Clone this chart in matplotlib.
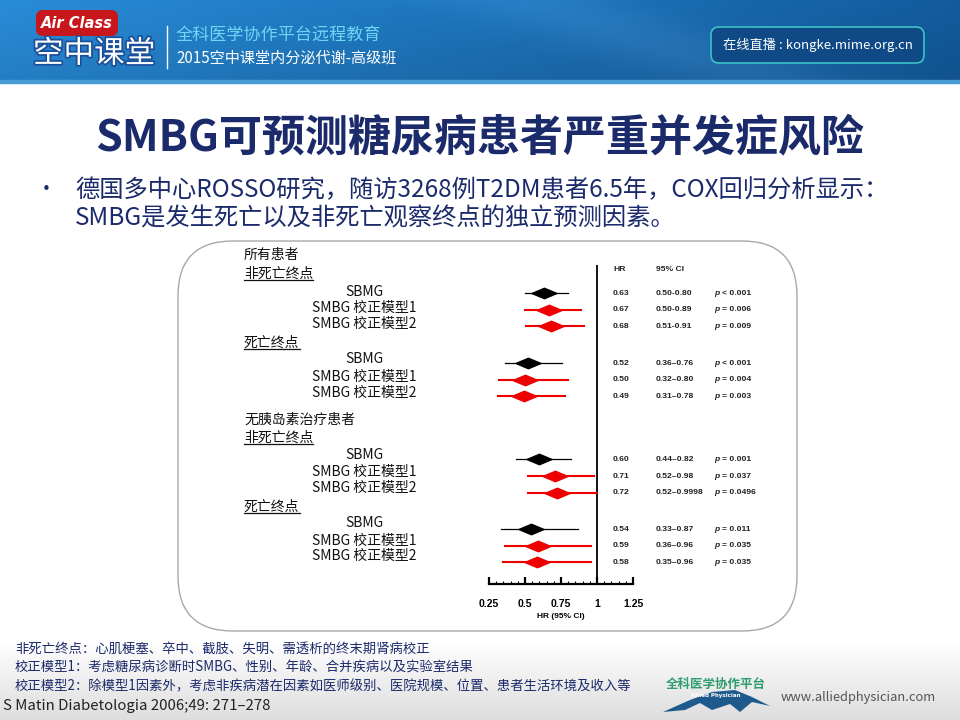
import numpy as np
import matplotlib
matplotlib.use("Agg")
import matplotlib.pyplot as plt
from matplotlib.patches import FancyBboxPatch, Polygon
from matplotlib.transforms import blended_transform_factory
import matplotlib.patheffects as pe

plt.rcParams['font.family'] = ['Noto Sans CJK SC', 'DejaVu Sans']

# ---- data ----
row_labels = ["SBMG", "SMBG 校正模型1", "SMBG 校正模型2",
              "SBMG", "SMBG 校正模型1", "SMBG 校正模型2",
              "SBMG", "SMBG 校正模型1", "SMBG 校正模型2",
              "SBMG", "SMBG 校正模型1", "SMBG 校正模型2"]
hr = [0.63, 0.67, 0.68, 0.52, 0.50, 0.49, 0.60, 0.71, 0.72, 0.54, 0.59, 0.58]
ci_lo = [0.50, 0.50, 0.51, 0.36, 0.32, 0.31, 0.44, 0.52, 0.52, 0.33, 0.36, 0.35]
ci_hi = [0.80, 0.89, 0.91, 0.76, 0.80, 0.78, 0.82, 0.98, 0.9998, 0.87, 0.96, 0.96]
ci_text = ["0.50-0.80", "0.50-0.89", "0.51-0.91", "0.36–0.76", "0.32–0.80", "0.31–0.78",
           "0.44–0.82", "0.52–0.98", "0.52–0.9998", "0.33–0.87", "0.36–0.96", "0.35–0.96"]
p_text = ["< 0.001", "= 0.006", "= 0.009", "< 0.001", "= 0.004", "= 0.003",
          "= 0.001", "= 0.037", "= 0.0496", "= 0.011", "= 0.035", "= 0.035"]
adjusted = [False, True, True] * 4
group_labels = ["所有患者", "非死亡终点", "死亡终点", "无胰岛素治疗患者", "非死亡终点", "死亡终点"]
group_underline = [False, True, True, False, True, True]
x_ticks = [0.25, 0.5, 0.75, 1, 1.25]
x_ticklabels = ["0.25", "0.5", "0.75", "1", "1.25"]

title = "SMBG可预测糖尿病患者严重并发症风险"
bullet_lines = ["德国多中心ROSSO研究，随访3268例T2DM患者6.5年，COX回归分析显示：",
                "SMBG是发生死亡以及非死亡观察终点的独立预测因素。"]
notes = ["非死亡终点：心肌梗塞、卒中、截肢、失明、需透析的终末期肾病校正",
         "校正模型1：考虑糖尿病诊断时SMBG、性别、年龄、合并疾病以及实验室结果",
         "校正模型2：除模型1因素外，考虑非疾病潜在因素如医师级别、医院规模、位置、患者生活环境及收入等"]
ref = "S Matin Diabetologia 2006;49: 271–278"

# ---- layout (row positions, in row units) ----
row_pos = [0, 1, 2, 4.2, 5.2, 6.2, 10, 11, 12, 14.2, 15.2, 16.2]
label_pos = [-0.05, 0.9, 1.87, 3.98, 5.05, 6.0, 9.76, 10.78, 11.69, 13.8, 14.88, 15.84]
group_pos = [-2.3, -1.15, 3.0, 7.6, 8.7, 12.85]

navy = "#1b2a6b"

fig = plt.figure(figsize=(9.6, 7.2), dpi=100)
bg = fig.add_axes([0, 0, 1, 1])
bg.set_xlim(0, 960)
bg.set_ylim(720, 0)
bg.axis("off")

# header gradient
gx = np.linspace(0, 1, 960)
gy = np.linspace(0, 1, 80)[:, None]
c_left = np.array([0.16, 0.55, 0.85])
c_right = np.array([0.07, 0.36, 0.62])
grad = c_left[None, None, :] * (1 - gx[None, :, None]) + c_right[None, None, :] * gx[None, :, None]
streak = np.exp(-((gx[None, :] - 0.55 - 0.25 * gy) ** 2) / 0.01)[:, :, None]
img = grad * (1 - 0.1 * gy[:, :, None]) + 0.05 * streak
bg.imshow(np.clip(img, 0, 1), extent=[0, 960, 80, 0], aspect="auto", zorder=0)
bg.fill_between([0, 960], 80, 83, color="#4a9ad6", zorder=1)

# footer gradient
fy = np.linspace(0, 1, 80)[:, None, None]
foot = np.ones((80, 960, 3)) * (1 - 0.13 * fy)
bg.imshow(foot, extent=[0, 960, 720, 640], aspect="auto", zorder=0)

# header logo and texts
bg.add_patch(FancyBboxPatch((36, 10), 82, 26, boxstyle="round,pad=0,rounding_size=7",
                            fc="#c8161d", ec="none", zorder=2))
bg.text(77, 23, "Air Class", color="white", fontsize=10.5, fontweight="bold", style="italic",
        ha="center", va="center", family="DejaVu Sans", zorder=3)
bg.text(33, 54, "空中课堂", color="white", fontsize=22, ha="left", va="center", zorder=3,
        path_effects=[pe.withStroke(linewidth=2.5, foreground="#1a4f9a")])
bg.plot([167, 167], [26, 68], color="white", lw=1, zorder=3)
bg.text(176, 36, "全科医学协作平台远程教育", color="#6fd6f5", fontsize=12.3, va="center", zorder=3)
bg.text(176, 58, "2015空中课堂内分泌代谢-高级班", color="white", fontsize=10.9, va="center", zorder=3)
bg.add_patch(FancyBboxPatch((711, 27), 213, 36, boxstyle="round,pad=0,rounding_size=8",
                            fc="#0f4a86", ec="#3cc1c8", lw=1.2, zorder=2))
bg.text(818, 45, "在线直播 : kongke.mime.org.cn", color="white", fontsize=9.5,
        ha="center", va="center", zorder=3)

# title and bullet
bg.text(480, 137, title, color=navy, fontsize=31, fontweight="heavy", ha="center", va="center")
bg.text(36, 190, "•", color=navy, fontsize=15, va="center")
bg.text(75, 190, bullet_lines[0], color=navy, fontsize=17.5, va="center")
bg.text(75, 218, bullet_lines[1], color=navy, fontsize=17.5, va="center")

# rounded frame
bg.add_patch(FancyBboxPatch((178, 241), 619, 390, boxstyle="round,pad=0,rounding_size=55",
                            fc="none", ec="#a8a8a8", lw=1.0, zorder=1))

# footnotes
for i, t in enumerate(notes):
    bg.text(15, 649 + 18.5 * i, t, color=navy, fontsize=9.6, va="center")
bg.text(3, 706, ref, color="#222222", fontsize=10.8, va="center")

# bottom-right logo
bg.text(716, 684, "全科医学协作平台", color="#2e9c6e", fontsize=9, fontweight="bold",
        ha="center", va="center")
bg.add_patch(Polygon([(663, 712), (690, 700), (712, 692), (735, 690), (752, 697), (770, 706),
                      (752, 702), (740, 712), (730, 704), (712, 710), (700, 703), (685, 710)],
                     closed=True, fc="#1e5a8c", ec="none"))
bg.text(716, 696, "Allied Physician", color="white", fontsize=4, fontweight="bold",
        ha="center", va="center", family="DejaVu Sans")
bg.text(781, 698, "www.alliedphysician.com", color="#555555", fontsize=9.3, va="center")

# ---- forest plot ----
ax_left, ax_right, ax_top, ax_bot = 489, 633, 265, 584
ax = fig.add_axes([ax_left / 960, 1 - ax_bot / 720, (ax_right - ax_left) / 960, (ax_bot - ax_top) / 720])
ax.set_xlim(0.25, 1.25)
ax.set_ylim(17.5, -1.7)
ax.patch.set_visible(False)
for s in ["top", "right", "left"]:
    ax.spines[s].set_visible(False)
ax.spines["bottom"].set_linewidth(1.6)
ax.set_yticks([])
ax.set_xticks(x_ticks)
ax.set_xticklabels(x_ticklabels, fontsize=7.5, fontweight="bold", family="Liberation Sans")
ax.set_xticks(np.arange(0.25, 1.2501, 0.05), minor=True)
ax.tick_params(axis="x", which="major", direction="in", length=5, width=1.6, pad=10.5)
ax.tick_params(axis="x", which="minor", direction="in", length=2.5, width=0.8)
ax.set_xlabel("HR (95% CI)", fontsize=6, fontweight="bold", family="Liberation Sans", labelpad=3)
ax.axvline(1, color="black", lw=1.3)

diamond = [(-1, 0), (0, 0.42), (1, 0), (0, -0.42), (-1, 0)]
for i in range(len(hr)):
    col = "#ee0000" if adjusted[i] else "black"
    lw = 1.5 if adjusted[i] else 0.9
    ax.plot([ci_lo[i], ci_hi[i]], [row_pos[i], row_pos[i]], color=col, lw=lw, clip_on=False)
    ax.plot(hr[i], row_pos[i], marker=diamond, markersize=18, color=col, mec=col, clip_on=False)

tr = blended_transform_factory(bg.transData, ax.transData)
txt_kw = dict(fontsize=6.1, fontweight="bold", family="Liberation Sans", va="center",
              color="#222222", transform=tr)
ax.text(613, -1.4, "HR", **txt_kw)
ax.text(656, -1.4, "95% CI", **txt_kw)
for i in range(len(hr)):
    ax.text(613, row_pos[i], "%.2f" % hr[i], **txt_kw)
    ax.text(656, row_pos[i], ci_text[i], **txt_kw)
    ax.text(714, row_pos[i], "p", style="italic", **txt_kw)
    ax.text(722, row_pos[i], p_text[i], **txt_kw)

for i in range(len(row_labels)):
    ax.text(364, label_pos[i], row_labels[i], fontsize=10, ha="center", va="center",
            color="#111111", transform=tr)

heads = []
for i in range(len(group_labels)):
    t = ax.text(244, group_pos[i], group_labels[i], fontsize=10, ha="left", va="center",
                color="#111111", transform=tr)
    heads.append((t, group_underline[i]))

fig.canvas.draw()
inv = bg.transData.inverted()
for t, ul in heads:
    if not ul:
        continue
    bb = t.get_window_extent()
    (x0, y0), (x1, y1) = inv.transform([(bb.x0, bb.y0), (bb.x1, bb.y1)])
    bg.plot([x0, x1], [y0 - 1, y0 - 1], color="#111111", lw=0.9)

fig.savefig("out.png", dpi=100)
